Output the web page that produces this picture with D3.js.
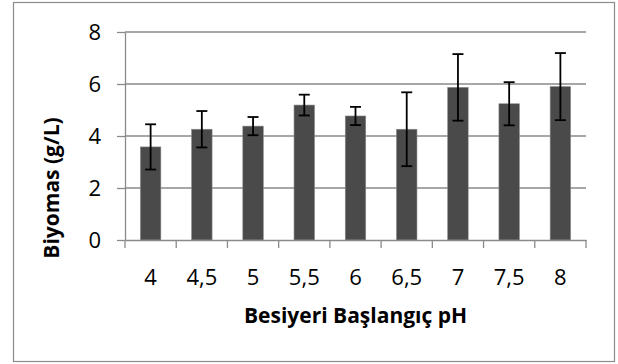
<!DOCTYPE html>
<html>
<head>
<meta charset="utf-8">
<script src="https://cdn.jsdelivr.net/npm/d3@7"></script>
<style>
  body { margin: 0; background: #fff; }
  svg text { font-family: "Open Sans", "Noto Sans", sans-serif; fill: #000; }
</style>
</head>
<body>
<div id="chart"></div>
<script>
// data
const phLabels = ["4", "4,5", "5", "5,5", "6", "6,5", "7", "7,5", "8"];
const biomass = [3.58, 4.26, 4.38, 5.19, 4.77, 4.26, 5.87, 5.24, 5.9];
const errors = [0.87, 0.7, 0.35, 0.4, 0.35, 1.42, 1.28, 0.83, 1.29];
const yTicks = [0, 2, 4, 6, 8];

const width = 618, height = 364;
const margin = {top: 32, right: 32, bottom: 124, left: 125};

const svg = d3.select("#chart").append("svg")
    .attr("width", width)
    .attr("height", height);

// outer frame
svg.append("rect")
    .attr("x", 13.5).attr("y", 2.5)
    .attr("width", 601).attr("height", 359)
    .attr("fill", "#fff")
    .attr("stroke", "#8c8c8c")
    .attr("stroke-width", 1.2);

const x = d3.scaleBand()
    .domain(phLabels)
    .range([margin.left, width - margin.right])
    .paddingInner(0.6)
    .paddingOuter(0.3);

const y = d3.scaleLinear()
    .domain([0, 8])
    .range([height - margin.bottom, margin.top]);

// gridlines
svg.append("g")
    .selectAll("line")
    .data(yTicks.filter(d => d > 0))
    .join("line")
        .attr("x1", margin.left)
        .attr("x2", width - margin.right)
        .attr("y1", d => y(d))
        .attr("y2", d => y(d))
        .attr("stroke", "#8a8a8a")
        .attr("stroke-width", 1.3);

// bars
svg.append("g")
    .selectAll("rect")
    .data(biomass)
    .join("rect")
        .attr("x", (d, i) => x(phLabels[i]))
        .attr("y", d => y(d))
        .attr("width", x.bandwidth())
        .attr("height", d => y(0) - y(d))
        .attr("fill", "#4a4a4a")
        .attr("stroke", "#8a8a8a")
        .attr("stroke-width", 0.6);

// error bars
const capW = 11;
const err = svg.append("g")
    .attr("stroke", "#000")
    .attr("stroke-width", 1.8)
    .selectAll("g")
    .data(biomass)
    .join("g")
        .attr("transform", (d, i) => `translate(${x(phLabels[i]) + x.bandwidth() / 2},0)`);

err.append("line")
    .attr("y1", (d, i) => y(d + errors[i]))
    .attr("y2", (d, i) => y(d - errors[i]));
err.append("line")
    .attr("x1", -capW / 2).attr("x2", capW / 2)
    .attr("y1", (d, i) => y(d + errors[i]))
    .attr("y2", (d, i) => y(d + errors[i]));
err.append("line")
    .attr("x1", -capW / 2).attr("x2", capW / 2)
    .attr("y1", (d, i) => y(d - errors[i]))
    .attr("y2", (d, i) => y(d - errors[i]));

// y axis
const yAxis = d3.axisLeft(y)
    .tickValues(yTicks)
    .tickSize(8)
    .tickPadding(16)
    .tickSizeOuter(0);

svg.append("g")
    .attr("transform", `translate(${margin.left},0)`)
    .call(yAxis)
    .call(g => g.selectAll("line, path").attr("stroke", "#8a8a8a").attr("stroke-width", 1.3))
    .call(g => g.selectAll("text").style("font-size", "22px").attr("fill", "#000"));

// x axis, ticks go on category boundaries
const xAxis = d3.axisBottom(x)
    .tickSize(0)
    .tickPadding(29)
    .tickSizeOuter(0);

const xg = svg.append("g")
    .attr("transform", `translate(0,${y(0)})`)
    .call(xAxis)
    .call(g => g.select(".domain").attr("stroke", "#8a8a8a").attr("stroke-width", 1.3))
    .call(g => g.selectAll("text").style("font-size", "22px").attr("fill", "#000"));

const plotW = width - margin.left - margin.right;
xg.selectAll(".bound")
    .data(d3.range(phLabels.length + 1))
    .join("line")
        .attr("class", "bound")
        .attr("x1", i => margin.left + i * plotW / phLabels.length)
        .attr("x2", i => margin.left + i * plotW / phLabels.length)
        .attr("y1", 0)
        .attr("y2", 8)
        .attr("stroke", "#8a8a8a")
        .attr("stroke-width", 1.3);

// axis titles
svg.append("text")
    .attr("x", (margin.left + width - margin.right) / 2)
    .attr("y", 323)
    .attr("text-anchor", "middle")
    .style("font-size", "21px")
    .style("font-weight", "bold")
    .text("Besiyeri Başlangıç pH");

svg.append("text")
    .attr("transform", "translate(59,188) rotate(-90)")
    .attr("text-anchor", "middle")
    .style("font-size", "21px")
    .style("font-weight", "bold")
    .text("Biyomas (g/L)");
</script>
</body>
</html>
